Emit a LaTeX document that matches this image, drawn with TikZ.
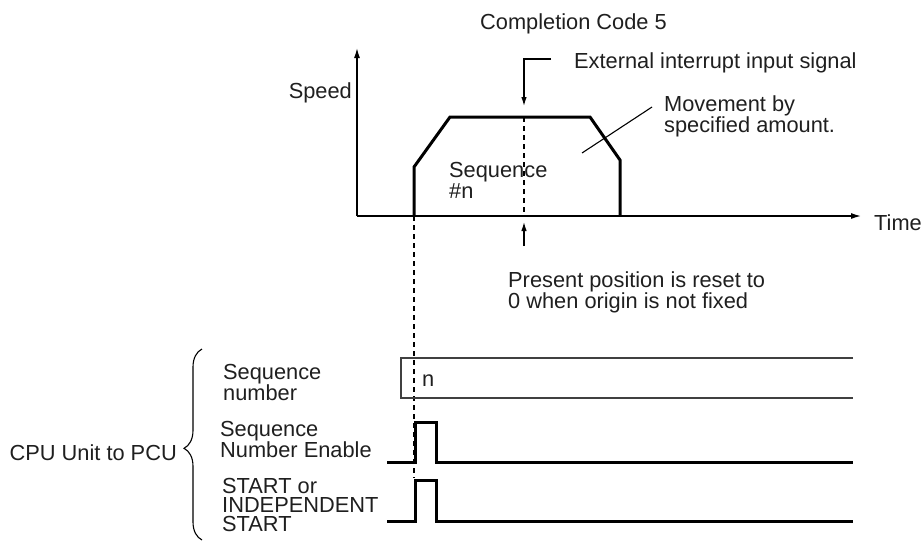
\documentclass[tikz,border=0pt]{standalone}
\usepackage{fontspec}
\setmainfont{Liberation Sans}
\usetikzlibrary{arrows.meta,decorations.pathreplacing}

\begin{document}
\begin{tikzpicture}[
    x=1pt, y=-1pt,
    lbl/.style={inner sep=0pt, text=black!88, font=\fontsize{21.8}{21}\selectfont},
    sig/.style={lbl, align=left, anchor=north west, font=\fontsize{21.8}{19.2}\selectfont},
    axis/.style={line width=1.3pt, -{Latex[length=10pt,width=6pt]}},
    pointer/.style={line width=1.2pt, -{Latex[length=9pt,width=5.5pt]}},
    wave/.style={line width=3pt, line join=miter},
    thinline/.style={line width=1.1pt},
    marker/.style={line width=1.3pt, dash pattern=on 5pt off 4pt}
]
\useasboundingbox (0,0) rectangle (921,542);

% speed chart
\coordinate (O) at (357,216);
\coordinate (Ytop) at (357,48);
\coordinate (Xend) at (861,216);
\draw[axis] (O) -- (Ytop);
\draw[axis] (O) -- (Xend);
\node[lbl, anchor=base east] (speed) at (352,98) {Speed};
\node[lbl, anchor=base west] (time) at (874,230) {Time};
\node[lbl, anchor=base] (title) at (573.5,29) {Completion Code 5};

\draw[wave] (414,216) -- (414,167) -- (450,117) -- (590,117) -- (620,160) -- (620,216);
\node[lbl, align=left, anchor=north west] (seq) at (449,162) {Sequence\\\#n};

% external interrupt
\coordinate (Int) at (524,59);
\coordinate (IntEnd) at (551,59);
\coordinate (IntTip) at (524,106);
\node[lbl, anchor=base west] (ext) at (574,68) {External interrupt input signal};
\draw[pointer] (IntEnd) -- (Int) -- (IntTip);
\draw[marker] (524,117) -- (524,216);
\coordinate (ResetFoot) at (524,246);
\coordinate (ResetTip) at (524,222);
\draw[pointer] (ResetFoot) -- (ResetTip);
\node[lbl, align=left, anchor=north west] (reset) at (508,271) {Present position is reset to\\0 when origin is not fixed};

% movement leader
\node[lbl, align=left, anchor=north west] (move) at (664,95) {Movement by\\specified amount.};
\coordinate (MoveA) at (652,107);
\coordinate (MoveB) at (582,153);
\draw[line width=1.1pt] (MoveA) -- (MoveB);

% signals from CPU Unit
\draw[marker] (414,216) -- (414,478);
\draw[thinline, black!75] (853,358) -- (401,358) -- (401,398) -- (853,398);
\node[lbl, anchor=base west] (n) at (422,386) {n};
\draw[wave] (387,462) -- (415,462) -- (415,422) -- (436,422) -- (436,462) -- (853,462);
\draw[wave] (387,521) -- (415,521) -- (415,480) -- (436,480) -- (436,521) -- (853,521);

\node[sig] (seqno) at (223,364) {Sequence\\number};
\node[sig] (enable) at (220,421) {Sequence\\Number Enable};
\node[sig] (start) at (222,478) {START or\\INDEPENDENT\\START};

\draw[thinline, decorate, decoration={brace, amplitude=18pt, aspect=0.48}] (202,540) -- (202,349);
\node[lbl, anchor=base east] (cpu) at (177,460) {CPU Unit to PCU};
\end{tikzpicture}
\end{document}
